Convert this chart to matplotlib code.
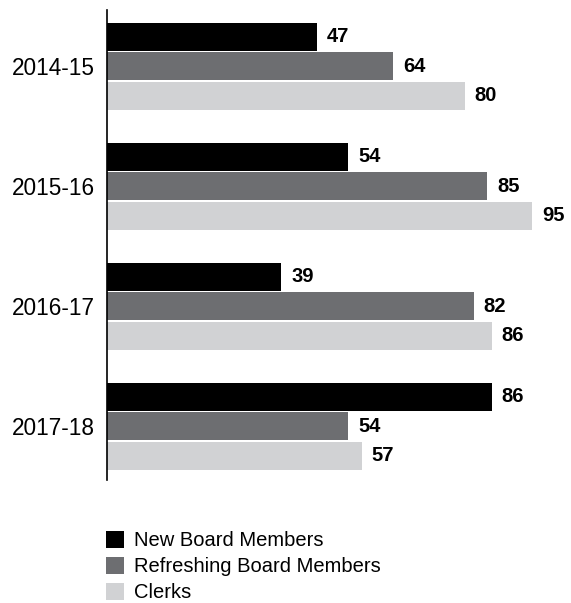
import numpy as np
import matplotlib
matplotlib.use("Agg")
import matplotlib.pyplot as plt
from matplotlib.patches import Patch

plt.rcParams['font.family'] = ['Liberation Sans', 'DejaVu Sans']

years = ["2014-15", "2015-16", "2016-17", "2017-18"]
series_names = ["New Board Members", "Refreshing Board Members", "Clerks"]
new_members = [47, 54, 39, 86]
refreshing = [64, 85, 82, 54]
clerks = [80, 95, 86, 57]
colors = ["#000000", "#6d6e71", "#d1d2d4"]

fig = plt.figure(figsize=(5.71, 6.03), dpi=100)
# axes placed in pixels: left edge 106, top 10, bottom 480
ax = fig.add_axes([106.5 / 571, 1 - 480 / 603, 448 / 571, 470 / 603])

pos = np.arange(len(years))
step = 29.5 / 120
height = 28 / 120

for k, (vals, col) in enumerate(zip([new_members, refreshing, clerks], colors)):
    y = pos + (k - 1) * step
    ax.barh(y, vals, height=height, color=col, linewidth=0)
    for yy, v in zip(y, vals):
        ax.text(v + 2.2, yy, str(v), va="center", ha="left",
                fontsize=14.5, fontweight="bold")

ax.set_xlim(0, 100)
ax.set_ylim(3.45, -0.467)
ax.set_yticks(pos)
ax.set_yticklabels(years, fontsize=16.3)
ax.tick_params(axis="y", length=0, pad=8.3)
ax.set_xticks([])
for s in ["top", "right", "bottom"]:
    ax.spines[s].set_visible(False)
ax.spines["left"].set_linewidth(1.2)

handles = [Patch(facecolor=c, edgecolor="none") for c in colors]
fig.legend(handles, series_names, loc="upper left",
           bbox_to_anchor=(106 / 571, 1 - 531 / 603), frameon=False,
           fontsize=14.5, handlelength=0.9, handleheight=0.9,
           handletextpad=0.5, labelspacing=0.33, borderpad=0, borderaxespad=0)

fig.savefig("out.png", dpi=100)
